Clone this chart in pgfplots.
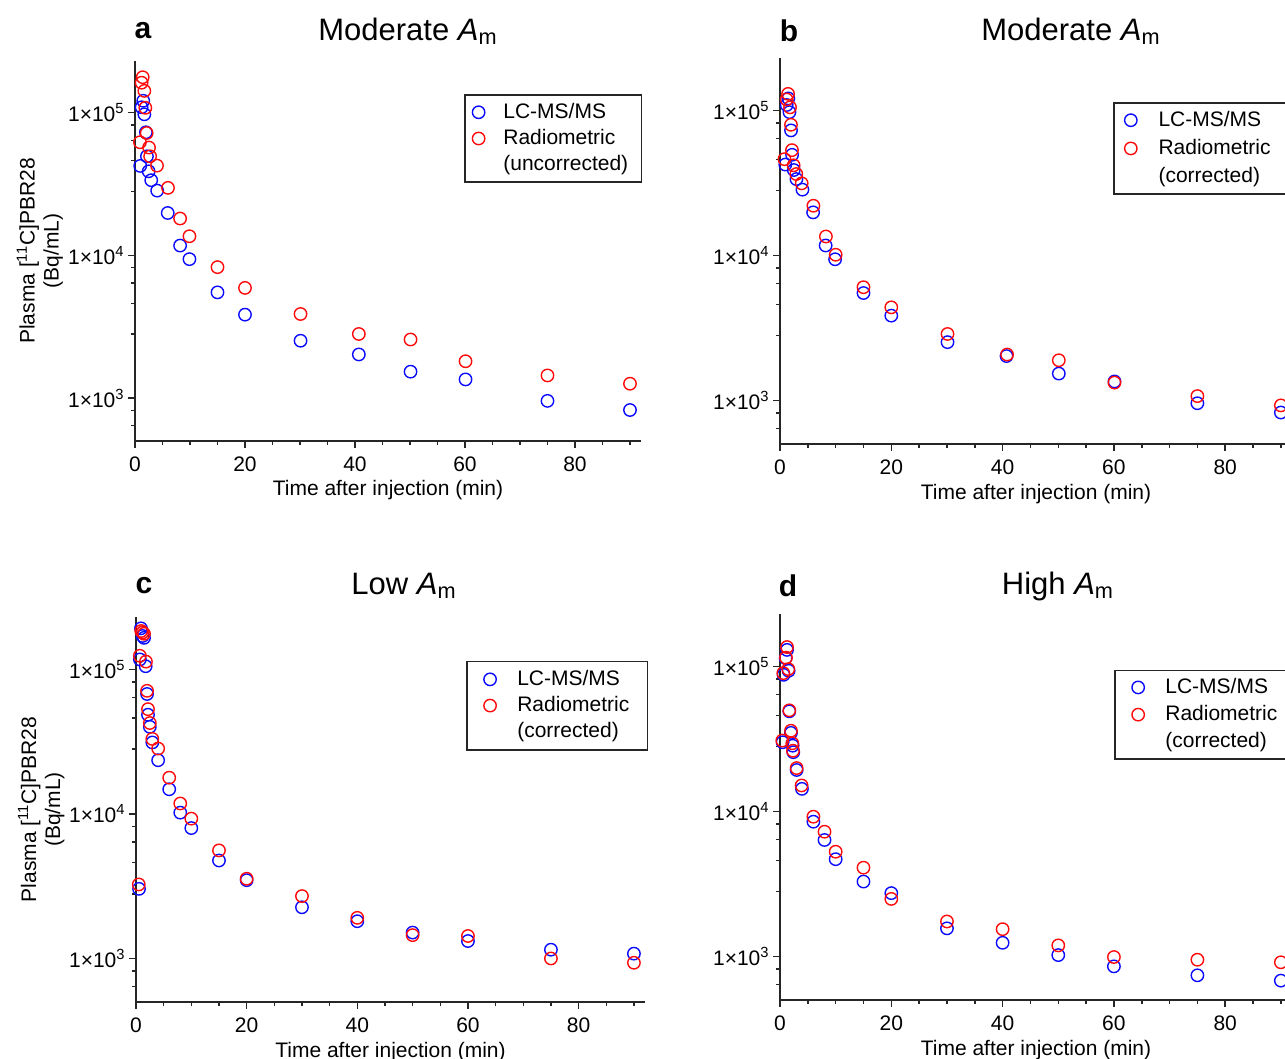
\documentclass[border=0pt]{standalone}
\usepackage{fontspec}
\setmainfont{Liberation Sans}
\usepackage{pgfplots}
\pgfplotsset{compat=1.18}

\definecolor{lcblue}{RGB}{10,10,255}
\definecolor{radred}{RGB}{255,10,10}
\newcommand\fs{\fontsize{10.5}{12}\selectfont}

\pgfplotsset{
  panelaxis/.style={
    scale only axis, anchor=south west,
    xmin=0, xmax=92, ymin=500, ymax=2.3e5,
    axis lines=left, axis line style={-, line width=0.75pt, black!85},
    tick align=outside, major tick length=3.5pt, minor tick length=2pt,
    tick style={line width=0.75pt, black!85},
    xtick={0,20,40,60,80},
    minor xtick={5,10,15,25,30,35,45,50,55,65,70,75,85,90},
    ytick={1000,10000,100000},
    yticklabels={1×10\textsuperscript{3},1×10\textsuperscript{4},1×10\textsuperscript{5}},
    minor ytick={640,820,2800,4600,6400,8200,28000,46000,64000,82000},
    tick label style={font=\fs},
    xticklabel style={yshift=-1pt},
    yticklabel style={inner xsep=1.5pt},
    label style={font=\fs},
    xlabel={Time after injection (min)},
    xlabel style={at={(axis description cs:0.5,-0.13)}, anchor=center},
    clip=false,
    legend cell align=left,
    legend style={draw=black!85, line width=0.75pt, fill=white, font=\fs,
      inner xsep=3pt, inner ysep=2pt, column sep=8.5pt, row sep=0pt},
  },
  ylabpanel/.style={
    ylabel={Plasma [\textsuperscript{11}C]PBR28\\(Bq/mL)},
    ylabel style={align=center, at={(axis description cs:-0.188,0.5)}, anchor=center},
  },
  blueo/.style={only marks, mark=o, mark size=3.1pt, color=lcblue, mark options={line width=0.7pt}},
  redo/.style={only marks, mark=o, mark size=3.1pt, color=radred, mark options={line width=0.7pt}},
  noimage/.style={legend image code/.code={}},
  % narrower legend images for panels a and b
  blueimga/.style={legend image code/.code={\path (-3.5pt,0pt) (7.5pt,0pt);
    \draw[lcblue, line width=0.7pt, mark=o, mark size=3.1pt] plot coordinates {(0pt,0pt)};}},
  redimga/.style={legend image code/.code={\path (-3.5pt,0pt) (7.5pt,0pt);
    \draw[radred, line width=0.7pt, mark=o, mark size=3.1pt] plot coordinates {(0pt,0pt)};}},
  blueimgb/.style={legend image code/.code={\path (-5pt,0pt) (9.5pt,0pt);
    \draw[lcblue, line width=0.7pt, mark=o, mark size=3.1pt] plot coordinates {(0pt,0pt)};}},
  redimgb/.style={legend image code/.code={\path (-5pt,0pt) (9.5pt,0pt);
    \draw[radred, line width=0.7pt, mark=o, mark size=3.1pt] plot coordinates {(0pt,0pt)};}},
}

\begin{document}
\begin{tikzpicture}
\path[use as bounding box] (0,0) rectangle (642.5pt,529.5pt);
\clip (0,0) rectangle (642.5pt,529.5pt);

% a: moderate Am, uncorrected
\begin{semilogyaxis}[panelaxis, ylabpanel, at={(67.5pt,309pt)}, width=253pt, height=190pt,
  /pgf/number format/assume math mode=true,
  legend style={at={(1.002,0.912)}, anchor=north east, column sep=2.5pt}]
\addplot[blueo, blueimga] coordinates {
  (0.95,42300) (1.2,109000) (1.5,121000) (1.7,97300) (1.98,72800) (2.17,49400)
  (2.48,38800) (2.95,33600) (4.03,28400) (5.95,19800) (8.2,11700) (9.9,9400)
  (15,5500) (20,3840) (30.1,2520) (40.7,2020) (50.1,1530) (60.1,1350) (75,955) (90,824)};
\addlegendentry{LC-MS/MS}
\addplot[redo, redimga] coordinates {
  (0.9,62000) (1.2,162000) (1.4,177000) (1.7,142000) (1.88,108000) (2.12,71900)
  (2.55,56900) (2.75,49400) (4.0,42500) (6.0,29700) (8.2,18100) (9.9,13600)
  (15,8260) (20,5910) (30.1,3880) (40.7,2810) (50.1,2570) (60.1,1810) (75,1440) (90,1260)};
\addlegendentry{Radiometric}
\addlegendimage{noimage}
\addlegendentry{(uncorrected)\rule{1.5pt}{0pt}}
\end{semilogyaxis}

% b: moderate Am, corrected
\begin{semilogyaxis}[panelaxis, at={(390pt,307.5pt)}, width=256pt, height=193pt,
  /pgf/number format/assume math mode=true,
  legend style={at={(0.651,0.885)}, anchor=north west, column sep=2pt, inner ysep=2pt, row sep=1pt}]
\addplot[blueo, blueimgb] coordinates {
  (0.95,42300) (1.2,109000) (1.5,121000) (1.7,97300) (1.98,72800) (2.17,49400)
  (2.48,38800) (2.95,33600) (4.03,28400) (5.95,19800) (8.2,11700) (9.9,9400)
  (15,5500) (20,3840) (30.1,2520) (40.7,2020) (50.1,1530) (60.1,1350) (75,955) (90,824)};
\addlegendentry{LC-MS/MS}
\addplot[redo, redimgb] coordinates {
  (0.8,46100) (1.2,119000) (1.45,130000) (1.8,105000) (1.97,79600) (2.15,53200)
  (2.45,41800) (2.93,36400) (3.9,31400) (6.0,22000) (8.25,13500) (10,10100)
  (15,6030) (20,4380) (30.1,2870) (40.8,2070) (50.1,1890) (60.1,1325) (75,1070) (90,923)};
\addlegendentry{Radiometric\rule{3.5pt}{0pt}}
\addlegendimage{noimage}
\addlegendentry{(corrected)}
\end{semilogyaxis}

% c: low Am
\begin{semilogyaxis}[panelaxis, ylabpanel, at={(68pt,28.5pt)}, width=254.5pt, height=192.5pt,
  /pgf/number format/assume math mode=true,
  ylabel style={at={(axis description cs:-0.186,0.5)}},
  legend style={at={(1.006,0.887)}, anchor=north east, inner ysep=2.5pt, row sep=0pt}]
\addplot[blueo] coordinates {
  (0.55,3030) (0.7,117000) (0.9,192000) (1.2,170000) (1.45,165000) (1.75,105000)
  (2.0,67500) (2.17,48500) (2.5,40000) (2.95,31200) (4.0,23500) (6,14800)
  (8,10200) (10,7980) (15,4760) (20,3480) (30,2260) (40,1810) (50,1510)
  (60,1320) (75,1150) (90,1080)};
\addlegendentry{LC-MS/MS}
\addplot[redo] coordinates {
  (0.5,3250) (0.7,124000) (0.95,184000) (1.2,180000) (1.45,176000) (1.8,113000)
  (2.0,71000) (2.17,53000) (2.5,42500) (2.95,33000) (4.0,28300) (6,17800)
  (8,11800) (10,9270) (15,5590) (20,3560) (30,2700) (40,1910) (50,1450)
  (60,1430) (75,1000) (90,934)};
\addlegendentry{Radiometric\rule{4pt}{0pt}}
\addlegendimage{noimage}
\addlegendentry{(corrected)}
\end{semilogyaxis}

% d: high Am
\begin{semilogyaxis}[panelaxis, at={(390pt,29.5pt)}, width=256pt, height=193pt,
  /pgf/number format/assume math mode=true,
  legend style={at={(0.653,0.856)}, anchor=north west, inner ysep=2pt, row sep=0.5pt}]
\addplot[blueo] coordinates {
  (0.47,30000) (0.65,87500) (1.01,114000) (1.26,130000) (1.55,93300) (1.67,49000)
  (1.97,34800) (2.27,28400) (2.39,25600) (2.99,19300) (3.94,14300) (6,8490)
  (8,6350) (10,4680) (15,3280) (20,2730) (30,1560) (40,1240) (50,1020)
  (60,853) (75,740) (90,680)};
\addlegendentry{LC-MS/MS}
\addplot[redo] coordinates {
  (0.41,30800) (0.59,89900) (1.07,115000) (1.26,136000) (1.49,95800) (1.67,49800)
  (1.97,36000) (2.21,29500) (2.33,26200) (2.99,19900) (3.88,15100) (6,9190)
  (8,7240) (10,5270) (15,4090) (20,2490) (30,1740) (40,1540) (50,1190)
  (60,989) (75,948) (90,910)};
\addlegendentry{Radiometric\rule{3pt}{0pt}}
\addlegendimage{noimage}
\addlegendentry{(corrected)}
\end{semilogyaxis}

% panel letters and titles
\node[font=\fontsize{15}{18}\selectfont\bfseries] at (71.5pt,514pt) {a};
\node[font=\fontsize{15.5}{18}\selectfont] at (204pt,514pt) {Moderate \textit{A}\textsubscript{m}};
\node[font=\fontsize{15}{18}\selectfont\bfseries] at (394.5pt,514pt) {b};
\node[font=\fontsize{15.5}{18}\selectfont] at (535.5pt,514pt) {Moderate \textit{A}\textsubscript{m}};
\node[font=\fontsize{15}{18}\selectfont\bfseries] at (72pt,236.5pt) {c};
\node[font=\fontsize{15.5}{18}\selectfont] at (202pt,236.5pt) {Low \textit{A}\textsubscript{m}};
\node[font=\fontsize{15}{18}\selectfont\bfseries] at (394pt,236.5pt) {d};
\node[font=\fontsize{15.5}{18}\selectfont] at (529pt,236.5pt) {High \textit{A}\textsubscript{m}};
\end{tikzpicture}
\end{document}
